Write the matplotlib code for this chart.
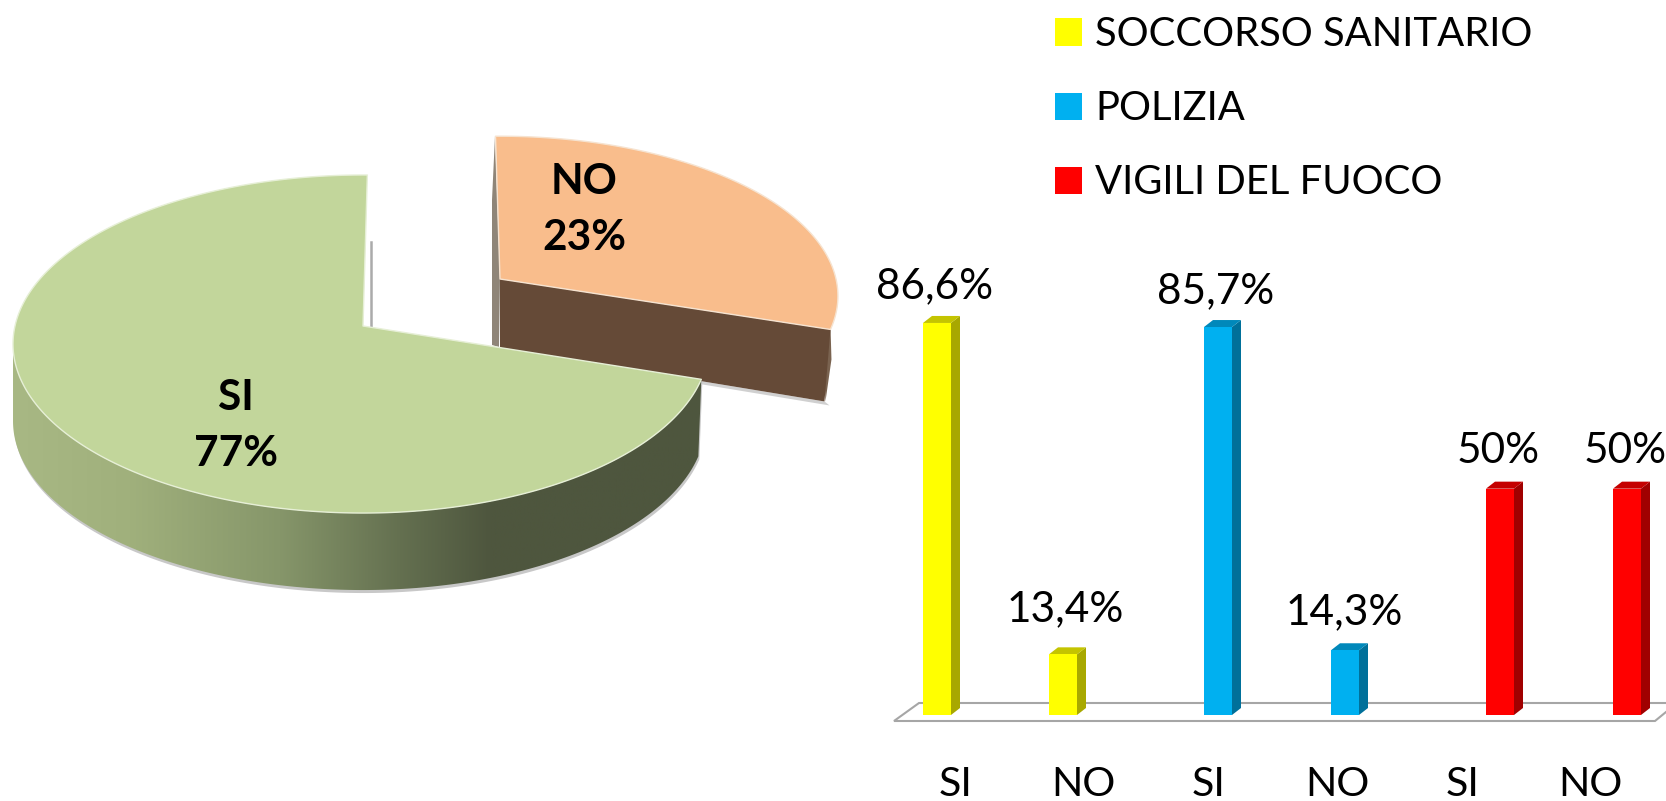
import numpy as np
import matplotlib
matplotlib.use("Agg")
import matplotlib.pyplot as plt
from matplotlib.patches import Polygon, Patch

# ---- data ----
pie_names = ["SI", "NO"]
pie_values = [77, 23]
series_names = ["SOCCORSO SANITARIO", "POLIZIA", "VIGILI DEL FUOCO"]
bar_categories = ["SI", "NO", "SI", "NO", "SI", "NO"]
bar_values = [86.6, 13.4, 85.7, 14.3, 50, 50]
bar_texts = ["86,6%", "13,4%", "85,7%", "14,3%", "50%", "50%"]
bar_series = [0, 0, 1, 1, 2, 2]

# ---- style / layout ----
W, H = 1666, 801
FONT = "Lato"
FS = 28.8
FS_BAR = 30.5
FS_TICK = 29.6
FS_PIE = 30.5
front = ["#FFFF00", "#00B0F0", "#FF0000"]
topc = ["#C4C400", "#0088BA", "#C40000"]
sidec = ["#A8A800", "#00709A", "#A00000"]
bar_left = [923, 1049, 1204, 1331, 1486, 1613]
tick_x = [956, 1083, 1209, 1337, 1463, 1590]
label_dx = [-2, 2, -2, -1, -2, -2]
label_gap = [25, 33, 24, 26, 26, 26]
bar_w, depth_x, depth_y = 28, 9, 7
px_per_unit = 4.527
base_y, floor_front_y = 715, 721

fig = plt.figure(figsize=(W / 100, H / 100), dpi=100, facecolor="white")

# ---- pie ----
ax = fig.add_axes([0, 0, 1, 1])
ax.set_xlim(0, W)
ax.set_ylim(H, 0)
ax.axis("off")

K = 0.1066
def proj(phi_deg, x0, y0, A=348.0, B=167.1, A_right=None):
    p = np.radians(phi_deg)
    w = 1 + K * np.sin(p)
    c = np.cos(p)
    a = np.where(c > 0, A if A_right is None else A_right, A)
    return x0 + a * c / w, y0 - B * np.sin(p) / w

# the reference's pie is drawn with the smaller slice visually stretched
stretch = 1.28
start = 88.0
no_sweep = 360 * pie_values[1] / sum(pie_values) * stretch
boundary = start - no_sweep

# NO slice (exploded)
nx, ny = 500, 279
phis = np.linspace(90.85, boundary, 150)
xo, yo = proj(phis, nx, ny, A=336, B=158)
ax.add_patch(Polygon([(495, 136), (492, 200), (492, 345), (499, 347), (nx, ny)],
                     fc="#8F8578", ec="none", zorder=1))
ex, ey = xo[-1], yo[-1]
ax.add_patch(Polygon([(ex, ey - 4), (ex + 1, ey + 30), (ex - 5, ey + 72), (ex - 8, ey)],
                     fc="#7A6350", ec="none", zorder=1))
ax.add_patch(Polygon([(nx, ny + 69), (ex - 6, ey + 72), (ex - 1, ey + 76), (nx, ny + 72)],
                     fc="#D0D0D0", ec="none", zorder=1))
ax.add_patch(Polygon([(nx, ny), (ex, ey), (ex - 6, ey + 72), (nx, ny + 69)],
                     fc="#654A37", ec="none", zorder=2))
ax.add_patch(Polygon(np.r_[[[nx, ny]], np.c_[xo, yo]], fc="#F9BD8C",
                     ec="#F6E3D0", lw=1, joinstyle="round", zorder=3))

# SI slice
cx, cy = 363, 326
si_start = 89.2
phis = np.linspace(si_start, boundary + 360, 400)
xs, ys = proj(phis, cx, cy, A_right=344)
thick = 77
mask = (phis >= 186)
xb, yb = xs[mask], ys[mask]
xb2 = xb - 3 * np.clip((xb - cx) / 338, 0, 1)
side = np.r_[np.c_[xb, yb], np.c_[xb2[::-1], yb[::-1] + thick]]
ax.add_patch(Polygon(side + [1, 3], fc="#C8C8C8", ec="none", zorder=4))
poly = Polygon(side, fc="none", ec="none", zorder=5)
ax.add_patch(poly)
stops_x = [13, 130, 280, 400, 490, 705]
stops_c = np.array([[168, 184, 132], [160, 176, 124], [134, 150, 106],
                    [100, 112, 80], [78, 86, 62], [78, 86, 62]], float)
gx = np.linspace(13, 705, 512)
grad = np.stack([np.interp(gx, stops_x, stops_c[:, i]) for i in range(3)], -1)[None] / 255
im = ax.imshow(grad, extent=(13, 705, 600, 300), aspect="auto", zorder=5)
im.set_clip_path(poly)
ax.set_xlim(0, W)
ax.set_ylim(H, 0)
ax.add_patch(Polygon(np.r_[[[cx, cy]], np.c_[xs, ys]], fc="#C2D69B",
                     ec="#E6EFD6", lw=1, joinstyle="round", zorder=6))
ax.plot([371, 371], [242, 326], color="#ABABAB", lw=1.8, zorder=4)

pie_pos = [(236, 426), (584, 210)]
for name, val, (tx, ty) in zip(pie_names, pie_values, pie_pos):
    ax.text(tx, ty, f"{name}\n{val}%", ha="center", va="center", family=FONT,
            weight="bold", fontsize=FS_PIE, linespacing=1.55, color="black", zorder=7)

# ---- bars ----
x_left = 880
bottom_px = H - floor_front_y
axb = fig.add_axes([x_left / W, bottom_px / H, (W - x_left) / W, (floor_front_y - 200) / H])
axb.patch.set_alpha(0)
axb.set_xlim(x_left, W)
axb.set_ylim(-(floor_front_y - base_y) / px_per_unit, (base_y - 200) / px_per_unit)
for s in axb.spines.values():
    s.set_visible(False)
axb.set_yticks([])
axb.set_xticks(tick_x)
axb.set_xticklabels(bar_categories, family=FONT, fontsize=FS_TICK, color="black")
axb.tick_params(axis="x", length=0, pad=32.5)

u = 1 / px_per_unit
floor_back = (703 - base_y) * -u
floor_fr = (721 - base_y) * -u
axb.plot([W, 919, 894, 1655, W], [floor_back, floor_back, floor_fr, floor_fr, (712 - base_y) * -u],
         color="#A6A6A6", lw=1.5, clip_on=False, zorder=1, solid_joinstyle="miter")

dy = depth_y * u
for i, (left, val, s) in enumerate(zip(bar_left, bar_values, bar_series)):
    r = left + bar_w
    axb.add_patch(Polygon([(r, 0), (r + depth_x, dy), (r + depth_x, val + dy), (r, val)],
                          fc=sidec[s], ec="none", zorder=2))
    axb.add_patch(Polygon([(left, val), (left + depth_x, val + dy), (r + depth_x, val + dy), (r, val)],
                          fc=topc[s], ec="none", zorder=2))
    axb.bar(left, val, width=bar_w, align="edge", color=front[s], zorder=3)
    axb.annotate(bar_texts[i], (left + bar_w / 2, val), xytext=(label_dx[i] * 0.72, label_gap[i] * 0.72),
                 textcoords="offset points", ha="center", va="baseline", family=FONT,
                 fontsize=FS_BAR, color="black", annotation_clip=False)

# ---- legend ----
handles = [Patch(fc=c, ec="none") for c in front]
leg = fig.legend(handles, series_names, loc="upper left",
                 bbox_to_anchor=(1055 / W, 1 - 16 / H), borderaxespad=0, borderpad=0,
                 frameon=False, prop={"family": FONT, "size": FS},
                 handlelength=27 / 40, handleheight=27 / 40, handletextpad=13 / 40,
                 labelspacing=0.93)

fig.savefig("out.png", dpi=100, facecolor="white")
